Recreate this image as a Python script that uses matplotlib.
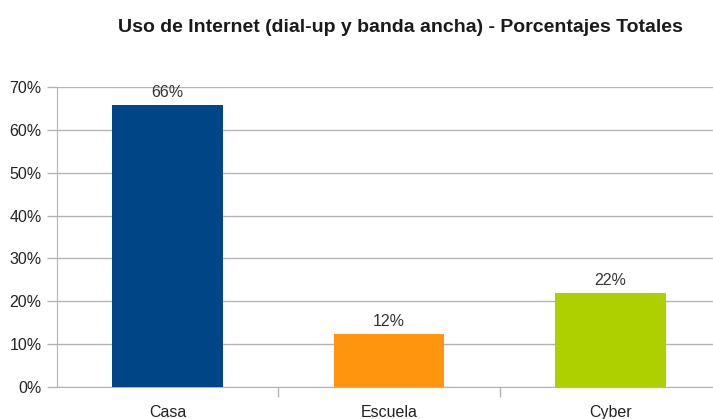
import matplotlib.pyplot as plt
from matplotlib.ticker import FuncFormatter, MultipleLocator, FixedLocator

plt.rcParams['font.family'] = ['Liberation Sans', 'DejaVu Sans']

categories = ['Casa', 'Escuela', 'Cyber']
values = [65.8, 12.4, 22.0]
labels = ['66%', '12%', '22%']
colors = ['#004586', '#ff950e', '#aecf00']

W, H = 713, 419
fig = plt.figure(figsize=(W / 100, H / 100), dpi=100)
ax = fig.add_axes([57 / W, 32 / H, (721 - 57) / W, 300 / H])

x = range(len(categories))
ax.bar(x, values, width=0.5, color=colors, zorder=3)
for i, v in enumerate(values):
    ax.text(i, v + 1.2, labels[i], ha='center', va='bottom', fontsize=11.5, color='#333333')

ax.set_xlim(-0.5, 2.5)
ax.set_ylim(0, 70)
ax.yaxis.set_major_locator(MultipleLocator(10))
ax.yaxis.set_major_formatter(FuncFormatter(lambda v, p: f'{v:.0f}%'))
ax.grid(axis='y', color='#b3b3b3', linewidth=1, zorder=0)

ax.set_xticks(list(x))
ax.set_xticklabels(categories)
ax.xaxis.set_minor_locator(FixedLocator([0.5, 1.5]))
ax.tick_params(axis='x', which='major', length=0, pad=13, labelsize=11.5, labelcolor='#222222')
ax.tick_params(axis='x', which='minor', length=7, width=1, color='#b3b3b3')
ax.tick_params(axis='y', length=7, width=1, color='#b3b3b3', labelsize=11.5, labelcolor='#222222', pad=4)

for s in ['top', 'right']:
    ax.spines[s].set_visible(False)
ax.spines['left'].set_color('#b3b3b3')
ax.spines['bottom'].set_color('#b3b3b3')

fig.text(400 / W, 1 - 27 / H, 'Uso de Internet (dial-up y banda ancha) - Porcentajes Totales',
         ha='center', va='center', fontsize=14, fontweight='bold', color='#1a1a1a')

fig.savefig('out.png', dpi=100)
